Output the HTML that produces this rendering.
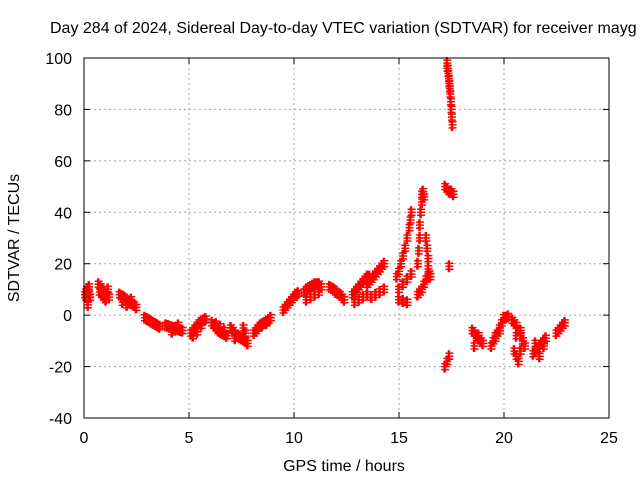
<!DOCTYPE html>
<html><head><meta charset="utf-8"><style>
body{margin:0;background:#fff;}
svg{display:block;font-family:"Liberation Sans",Arial,sans-serif;}
</style></head><body>
<svg id="chart" width="640" height="480">
<rect width="640" height="480" fill="#fff"/>
<text x="50" y="33" font-size="16" fill="#000">Day 284 of 2024, Sidereal Day-to-day VTEC variation (SDTVAR) for receiver mayg</text>
<g id="grid"></g>
<g id="ticks"></g>
<g id="pts"></g>
<rect x="84" y="58" width="525" height="360" fill="none" stroke="#000" stroke-width="1"/>
<text x="344" y="471" font-size="16" text-anchor="middle">GPS time / hours</text>
<text transform="translate(19,238) rotate(-90)" font-size="16" text-anchor="middle">SDTVAR / TECUs</text>
</svg>
<script>
const xTicks=[0,5,10,15,20,25];
const yTicks=[-40,-20,0,20,40,60,80,100];
const hours=[
0.05,0.1,0.15,0.2,0.25,0.3,0.1,0.2,0.25,
0.7,0.8,0.9,1.0,1.1,1.2,0.75,0.85,0.95,1.05,1.15,
1.7,1.8,1.9,2.0,2.1,2.2,2.3,2.4,2.5,1.85,2.05,2.25,
2.9,3.0,3.1,3.2,3.3,3.4,3.5,3.6,
3.9,4.0,4.1,4.2,4.3,4.4,4.5,4.6,4.7,4.2,4.5,
5.1,5.2,5.3,5.4,5.5,5.6,5.7,5.8,5.2,5.4,5.6,
6.1,6.2,6.3,6.4,6.5,6.6,6.7,6.8,6.3,6.5,6.7,
7.0,7.1,7.2,7.3,7.4,7.5,7.6,7.7,7.8,7.6,7.7,7.2,
8.1,8.2,8.3,8.4,8.5,8.6,8.7,8.8,8.9,8.3,8.5,8.7,
9.5,9.6,9.7,9.8,9.9,10.0,10.1,10.2,
10.5,10.6,10.7,10.8,10.9,11.0,11.1,11.2,11.3,10.6,10.8,11.0,11.2,
11.7,11.8,11.9,12.0,12.1,12.2,12.3,12.4,
12.8,12.9,13.0,13.1,13.2,13.3,13.4,13.5,13.6,12.9,13.1,13.3,13.5,
13.5,13.6,13.7,13.8,13.9,14.0,14.1,14.2,14.3,13.7,13.9,14.1,14.3,
14.9,15.0,15.1,15.2,15.3,15.4,15.5,15.55,15.6,15.0,15.2,15.4,15.6,15.0,15.2,15.4,
15.9,15.95,16.0,16.0,16.05,16.1,16.1,16.15,16.2,16.3,16.35,16.4,16.4,16.45,16.5,15.9,16.0,16.1,16.2,16.3,16.4,
17.2,17.3,17.4,17.5,17.6,17.4,17.3,17.32,17.35,17.38,17.4,17.42,17.45,17.48,17.5,17.52,17.55,17.2,17.3,17.4,
18.5,18.6,18.7,18.8,18.9,19.0,18.6,18.8,
19.4,19.5,19.6,19.7,19.8,19.9,20.0,20.1,20.2,19.6,19.8,
20.4,20.5,20.6,20.7,20.8,20.9,21.0,20.5,20.6,20.7,20.8,20.9,20.6,20.8,
21.4,21.5,21.6,21.7,21.8,21.9,22.0,21.5,21.7,21.9,
22.5,22.6,22.7,22.8,22.9];
const sdtvar=[
8,9,10,9,8,7,7,4,11,
12,11,10,9,8,7,9,8,7,6,10,
8,7.5,7,6,5.5,5,4.5,4,3,5,4,6,
-1,-1.5,-2,-2.5,-3,-3.5,-4,-4.5,
-4,-4.2,-4.5,-4.8,-5,-5.2,-5.5,-5.8,-6,-6.5,-4,
-7,-6,-5,-4,-3,-2.5,-2,-1.5,-8,-6.5,-4,
-3,-4,-5,-6,-6.5,-7,-7.5,-8,-3.5,-4.5,-6,
-5,-6,-7,-8,-8.5,-9,-9.5,-10,-11,-5,-7,-9,
-7,-6,-5,-4,-3.5,-3,-2.5,-2,-1,-5,-4,-3,
2,3,4,5,6,7,8,8.5,
9,10,10.5,11,11.5,12,12,12,11,6,7,8,9,
11,10.5,10,9,8.5,8,7,6,
8,9,10,11,12,13,14,15,15,5,6,7,8,
12,13,14,15,16,17,18,19,20,7,8,9,10,
15,17,20,23,26,30,34,37,40,10,12,14,16,6,5.5,5,
20,25,30,35,40,44,47,48,46,30,26,22,18,16,15,8,9,10,12,14,15,
50,49,48,48,47,19,98,96,94,92,90,88,86,83,80,77,74,-20,-18,-16,
-6,-7,-8,-9,-10,-11,-12,-8,
-12,-10,-8,-7,-5,-3,-1,-1,-0.5,-9,-6,
-2,-3,-4,-6,-8,-10,-12,-14,-16,-18,-14,-10,-8,-6,
-15,-14,-13,-12,-11,-10,-9,-11,-16,-12,
-7,-6,-5,-4,-3];
const X=h=>84+h*21;
const Y=v=>58+(100-v)*360/140;
const NS="http://www.w3.org/2000/svg";
const grid=document.getElementById('grid'),ticks=document.getElementById('ticks'),pts=document.getElementById('pts');
function mk(tag,at,parent){const e=document.createElementNS(NS,tag);for(const k in at)e.setAttribute(k,at[k]);parent.appendChild(e);return e;}
xTicks.forEach(t=>{
 const x=X(t);
 if(t>0&&t<25){const g=mk('line',{x1:x,x2:x,y1:58,y2:418,stroke:'#a0a0a0','stroke-dasharray':'2,3'},grid);
 
 }
 mk('line',{x1:x,x2:x,y1:418,y2:412,stroke:'#000'},ticks);
 mk('line',{x1:x,x2:x,y1:58,y2:64,stroke:'#000'},ticks);
 const l=mk('text',{x:x,y:443,'font-size':16,'text-anchor':'middle'},ticks);l.textContent=t;
 
 
});
yTicks.forEach(t=>{
 const y=Y(t);
 if(t>-40&&t<100){const g=mk('line',{x1:84,x2:609,y1:y,y2:y,stroke:'#a0a0a0','stroke-dasharray':'2,3'},grid);
 
 }
 mk('line',{x1:84,x2:90,y1:y,y2:y,stroke:'#000'},ticks);
 mk('line',{x1:609,x2:603,y1:y,y2:y,stroke:'#000'},ticks);
 const l=mk('text',{x:72,y:y+6,'font-size':16,'text-anchor':'end'},ticks);l.textContent=t;
 
 
});
hours.forEach((h,i)=>{
 const x=X(h),y=Y(sdtvar[i]);
 const p=mk('path',{d:`M${x-4} ${y}H${x+4}M${x} ${y-6}V${y+6}M${x-1} ${y-6}V${y+6}M${x-4} ${y-3}H${x+4}M${x-4} ${y+3}H${x+4}`,stroke:'#f00','stroke-width':1.5,fill:'none'},pts);
 
 
});
</script>
</body></html>
